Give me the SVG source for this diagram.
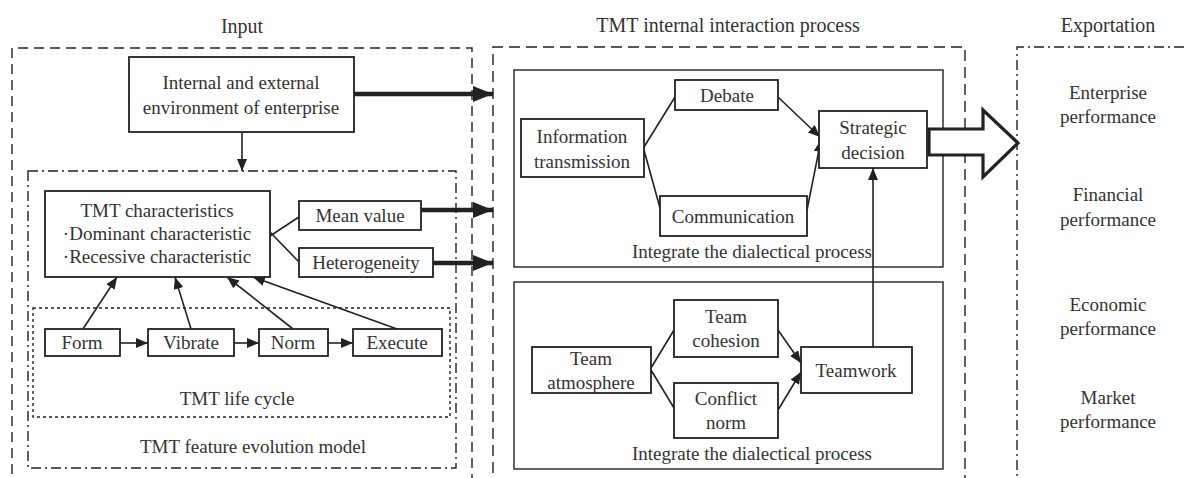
<svg xmlns="http://www.w3.org/2000/svg" width="1186" height="478" viewBox="0 0 1186 478">
  <style>
    text { font-family: "Liberation Serif", "Times New Roman", serif; fill: #333; text-anchor: middle; }
    .hdr { font-size: 20px; }
    .t { font-size: 19px; }
    .box { fill: #fff; stroke: #222; stroke-width: 1.8; }
    .frame { fill: none; stroke: #222; stroke-width: 1.4; }
    .ln { fill: none; stroke: #222; stroke-width: 1.6; }
    .arr { fill: none; stroke: #222; stroke-width: 1.6; marker-end: url(#ah); }
    .thick { fill: none; stroke: #222; stroke-width: 4.5; marker-end: url(#ahBig); }
  </style>
  <defs>
    <marker id="ah" viewBox="0 0 12 10" refX="12" refY="5" markerWidth="12" markerHeight="10" markerUnits="userSpaceOnUse" orient="auto">
      <path d="M0,0 L12,5 L0,10 z" fill="#222"/>
    </marker>
    <marker id="ahBig" viewBox="0 0 20 16" refX="20" refY="8" markerWidth="20" markerHeight="16" markerUnits="userSpaceOnUse" orient="auto">
      <path d="M0,0 L20,8 L0,16 z" fill="#222"/>
    </marker>
  </defs>

  <rect width="1186" height="478" fill="#fff"/>

  <!-- column headers -->
  <text class="hdr" x="242" y="33">Input</text>
  <text class="hdr" x="728" y="32">TMT internal interaction process</text>
  <text class="hdr" x="1108" y="32">Exportation</text>

  <!-- column frames (open at the bottom / right edge) -->
  <g id="input-frame">
    <path class="frame" d="M12,490 L12,48 L472,48 L472,490" stroke-dasharray="10,6"/>
  </g>
  <g id="process-frame">
    <path class="frame" d="M493,490 L493,47 L965,47 L965,490" stroke-width="3.2" stroke-dasharray="11,6"/>
  </g>
  <g id="export-frame">
    <path class="frame" d="M1017,490 L1017,47 L1200,47" stroke-dasharray="10,4,2,4"/>
  </g>

  <!-- feature evolution model and life cycle frames -->
  <g id="feature-evolution-model">
    <rect class="frame" x="28" y="171" width="428" height="297" stroke-dasharray="10,4,2,4"/>
    <text class="t" x="253" y="453">TMT feature evolution model</text>
  </g>
  <g id="life-cycle">
    <rect class="frame" x="33" y="308" width="417" height="109" stroke-width="2" stroke-dasharray="3,3"/>
    <text class="t" x="237" y="405">TMT life cycle</text>
  </g>

  <!-- integration panels -->
  <g id="panel-upper">
    <rect class="frame" x="514" y="70" width="429" height="197" stroke-width="1.6"/>
    <text class="t" x="752" y="258">Integrate the dialectical process</text>
  </g>
  <g id="panel-lower">
    <rect class="frame" x="514" y="282" width="429" height="187" stroke-width="1.6"/>
    <text class="t" x="752" y="460">Integrate the dialectical process</text>
  </g>

  <!-- connectors -->
  <g id="connectors">
    <line class="arr" x1="242" y1="132" x2="242" y2="171"/>
    <line class="thick" x1="354" y1="94" x2="493" y2="94"/>
    <line class="thick" x1="421" y1="210" x2="493" y2="210"/>
    <line class="thick" x1="433" y1="263" x2="493" y2="263"/>
    <line class="ln" x1="270" y1="236" x2="299" y2="217"/>
    <line class="ln" x1="270" y1="232" x2="299" y2="262"/>
    <line class="arr" x1="120" y1="343" x2="148" y2="343"/>
    <line class="arr" x1="234" y1="343" x2="259" y2="343"/>
    <line class="arr" x1="328" y1="343" x2="353" y2="343"/>
    <line class="arr" x1="83" y1="329" x2="117" y2="277"/>
    <line class="arr" x1="191" y1="329" x2="175" y2="277"/>
    <line class="arr" x1="293" y1="329" x2="227" y2="277"/>
    <line class="arr" x1="397" y1="329" x2="253" y2="277"/>
    <line class="ln" x1="644" y1="147" x2="675" y2="97"/>
    <line class="ln" x1="644" y1="150" x2="660" y2="208"/>
    <line class="arr" x1="778" y1="97" x2="820" y2="137"/>
    <line class="arr" x1="807" y1="210" x2="821" y2="140"/>
    <line class="arr" x1="873" y1="347" x2="873" y2="168"/>
    <line class="ln" x1="651" y1="368" x2="674" y2="330"/>
    <line class="ln" x1="651" y1="370" x2="674" y2="408"/>
    <line class="arr" x1="778" y1="330" x2="801" y2="363"/>
    <line class="arr" x1="778" y1="410" x2="801" y2="372"/>
    <!-- hollow output arrow -->
    <polygon points="929,129 983,129 983,110 1018,143 983,177 983,155 929,155" fill="#fff" stroke="#222" stroke-width="3.2" stroke-linejoin="miter"/>
  </g>

  <!-- input nodes -->
  <g id="environment">
    <rect class="box" x="129" y="57" width="225" height="75"/>
    <text class="t" x="241" y="89">Internal and external</text>
    <text class="t" x="241" y="114">environment of enterprise</text>
  </g>
  <g id="tmt-characteristics">
    <rect class="box" x="45" y="191" width="225" height="86"/>
    <text class="t" x="157" y="217">TMT characteristics</text>
    <text class="t" x="157" y="240">·Dominant characteristic</text>
    <text class="t" x="157" y="263">·Recessive characteristic</text>
  </g>
  <g id="mean-value">
    <rect class="box" x="299" y="201" width="122" height="29"/>
    <text class="t" x="360" y="222">Mean value</text>
  </g>
  <g id="heterogeneity">
    <rect class="box" x="299" y="248" width="134" height="29"/>
    <text class="t" x="366" y="269">Heterogeneity</text>
  </g>
  <g id="form">
    <rect class="box" x="45" y="329" width="75" height="27"/>
    <text class="t" x="82" y="349">Form</text>
  </g>
  <g id="vibrate">
    <rect class="box" x="148" y="329" width="86" height="27"/>
    <text class="t" x="191" y="349">Vibrate</text>
  </g>
  <g id="norm">
    <rect class="box" x="259" y="329" width="69" height="27"/>
    <text class="t" x="293" y="349">Norm</text>
  </g>
  <g id="execute">
    <rect class="box" x="353" y="329" width="89" height="27"/>
    <text class="t" x="397" y="349">Execute</text>
  </g>

  <!-- interaction process nodes -->
  <g id="information-transmission">
    <rect class="box" x="521" y="119" width="123" height="58"/>
    <text class="t" x="582" y="143">Information</text>
    <text class="t" x="582" y="168">transmission</text>
  </g>
  <g id="debate">
    <rect class="box" x="675" y="80" width="103" height="30"/>
    <text class="t" x="727" y="102">Debate</text>
  </g>
  <g id="communication">
    <rect class="box" x="660" y="196" width="147" height="40"/>
    <text class="t" x="733" y="223">Communication</text>
  </g>
  <g id="strategic-decision">
    <rect class="box" x="819" y="111" width="108" height="57"/>
    <text class="t" x="873" y="134">Strategic</text>
    <text class="t" x="873" y="159">decision</text>
  </g>
  <g id="team-atmosphere">
    <rect class="box" x="532" y="347" width="119" height="46"/>
    <text class="t" x="591" y="365">Team</text>
    <text class="t" x="591" y="389">atmosphere</text>
  </g>
  <g id="team-cohesion">
    <rect class="box" x="674" y="300" width="104" height="57"/>
    <text class="t" x="726" y="323">Team</text>
    <text class="t" x="726" y="347">cohesion</text>
  </g>
  <g id="conflict-norm">
    <rect class="box" x="674" y="383" width="104" height="55"/>
    <text class="t" x="726" y="405">Conflict</text>
    <text class="t" x="726" y="429">norm</text>
  </g>
  <g id="teamwork">
    <rect class="box" x="801" y="347" width="111" height="46"/>
    <text class="t" x="856" y="377">Teamwork</text>
  </g>

  <!-- output labels -->
  <g id="enterprise-performance">
    <text class="t" x="1108" y="99">Enterprise</text>
    <text class="t" x="1108" y="123">performance</text>
  </g>
  <g id="financial-performance">
    <text class="t" x="1108" y="201">Financial</text>
    <text class="t" x="1108" y="226">performance</text>
  </g>
  <g id="economic-performance">
    <text class="t" x="1108" y="311">Economic</text>
    <text class="t" x="1108" y="335">performance</text>
  </g>
  <g id="market-performance">
    <text class="t" x="1108" y="404">Market</text>
    <text class="t" x="1108" y="428">performance</text>
  </g>
</svg>
